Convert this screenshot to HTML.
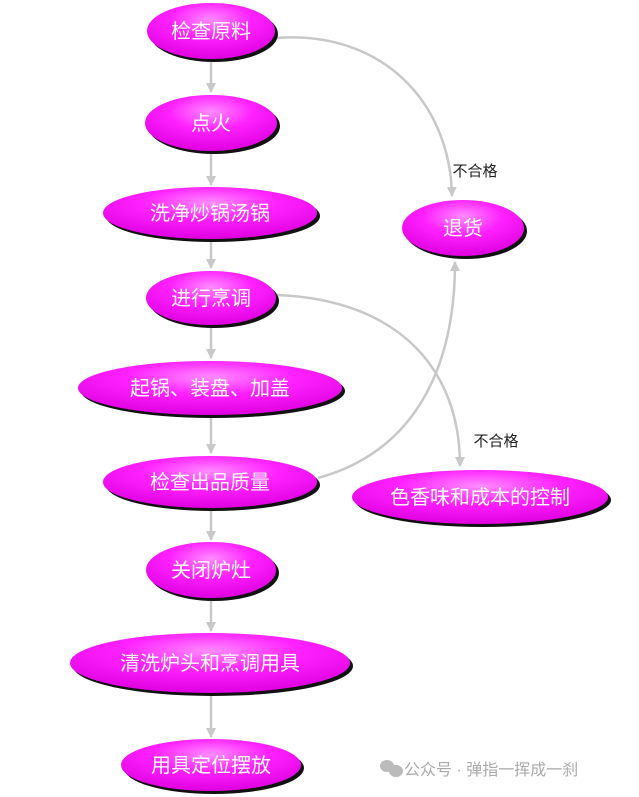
<!DOCTYPE html>
<html><head><meta charset="utf-8"><style>
html,body{margin:0;padding:0;background:#fff;width:639px;height:797px;overflow:hidden}
svg text{font-family:"Liberation Sans","Noto Sans CJK SC",sans-serif}
</style></head><body>
<svg width="639" height="797" viewBox="0 0 639 797" xmlns="http://www.w3.org/2000/svg">
<defs>
<radialGradient id="g" cx="50%" cy="30%" r="70%">
<stop offset="0" stop-color="#ff8cff"/><stop offset="0.45" stop-color="#ff22ff"/><stop offset="1" stop-color="#e000e0"/>
</radialGradient>
<marker id="a" viewBox="0 0 10 10" refX="9" refY="5" markerWidth="4" markerHeight="4" orient="auto"><path d="M0,0L10,5L0,10z" fill="#c8c8c8"/></marker>
</defs>
<g stroke="#c8c8c8" stroke-width="2.5" fill="none">
<line x1="211" y1="62" x2="211" y2="92" marker-end="url(#a)"/>
<line x1="211" y1="154" x2="211" y2="185" marker-end="url(#a)"/>
<line x1="211" y1="242" x2="211" y2="268" marker-end="url(#a)"/>
<line x1="211" y1="327" x2="211" y2="358" marker-end="url(#a)"/>
<line x1="211" y1="417" x2="211" y2="453" marker-end="url(#a)"/>
<line x1="211" y1="509" x2="211" y2="540" marker-end="url(#a)"/>
<line x1="211" y1="600" x2="211" y2="631" marker-end="url(#a)"/>
<line x1="211" y1="696" x2="211" y2="737" marker-end="url(#a)"/>
<path d="M276,38 C380,30 450,100 452,196" marker-end="url(#a)"/>
<path d="M318,478 C420,450 455,360 455,262" marker-end="url(#a)"/>
<path d="M277,295 C400,300 460,370 460,466" marker-end="url(#a)"/>
</g>
<text x="475" y="176" font-size="15" text-anchor="middle" fill="#222">不合格</text>
<text x="496" y="446" font-size="15" text-anchor="middle" fill="#222">不合格</text>
<g font-size="20" fill="#fff" text-anchor="middle">
<g><ellipse cx="214" cy="34" rx="64" ry="28" fill="#111"/><ellipse cx="211" cy="31" rx="64" ry="28" fill="url(#g)"/><text x="211" y="38">检查原料</text></g>
<g><ellipse cx="214" cy="126" rx="66" ry="28" fill="#111"/><ellipse cx="211" cy="123" rx="66" ry="28" fill="url(#g)"/><text x="211" y="130">点火</text></g>
<g><ellipse cx="213" cy="216" rx="107" ry="26" fill="#111"/><ellipse cx="210" cy="213" rx="107" ry="26" fill="url(#g)"/><text x="210" y="220">洗净炒锅汤锅</text></g>
<g><ellipse cx="214" cy="301" rx="65" ry="27" fill="#111"/><ellipse cx="211" cy="298" rx="65" ry="27" fill="url(#g)"/><text x="211" y="305">进行烹调</text></g>
<g><ellipse cx="213" cy="391" rx="132" ry="27" fill="#111"/><ellipse cx="210" cy="388" rx="132" ry="27" fill="url(#g)"/><text x="210" y="395">起锅、装盘、加盖</text></g>
<g><ellipse cx="213" cy="485" rx="107" ry="26" fill="#111"/><ellipse cx="210" cy="482" rx="107" ry="26" fill="url(#g)"/><text x="210" y="489">检查出品质量</text></g>
<g><ellipse cx="214" cy="573" rx="65" ry="28" fill="#111"/><ellipse cx="211" cy="570" rx="65" ry="28" fill="url(#g)"/><text x="211" y="577">关闭炉灶</text></g>
<g><ellipse cx="213" cy="666" rx="140" ry="30" fill="#111"/><ellipse cx="210" cy="663" rx="140" ry="30" fill="url(#g)"/><text x="210" y="670">清洗炉头和烹调用具</text></g>
<g><ellipse cx="214" cy="768" rx="90" ry="26" fill="#111"/><ellipse cx="211" cy="765" rx="90" ry="26" fill="url(#g)"/><text x="211" y="772">用具定位摆放</text></g>
<g><ellipse cx="466" cy="231" rx="61" ry="28" fill="#111"/><ellipse cx="463" cy="228" rx="61" ry="28" fill="url(#g)"/><text x="463" y="235">退货</text></g>
<g><ellipse cx="483" cy="500" rx="128" ry="27" fill="#111"/><ellipse cx="480" cy="497" rx="128" ry="27" fill="url(#g)"/><text x="480" y="504">色香味和成本的控制</text></g>
</g>
<g fill="#bbb"><ellipse cx="387" cy="766" rx="7" ry="6"/><ellipse cx="396" cy="771" rx="7" ry="6"/></g>
<text x="404" y="775" font-size="16" fill="#aaa">公众号 · 弹指一挥成一刹</text>
</svg>
</body></html>
